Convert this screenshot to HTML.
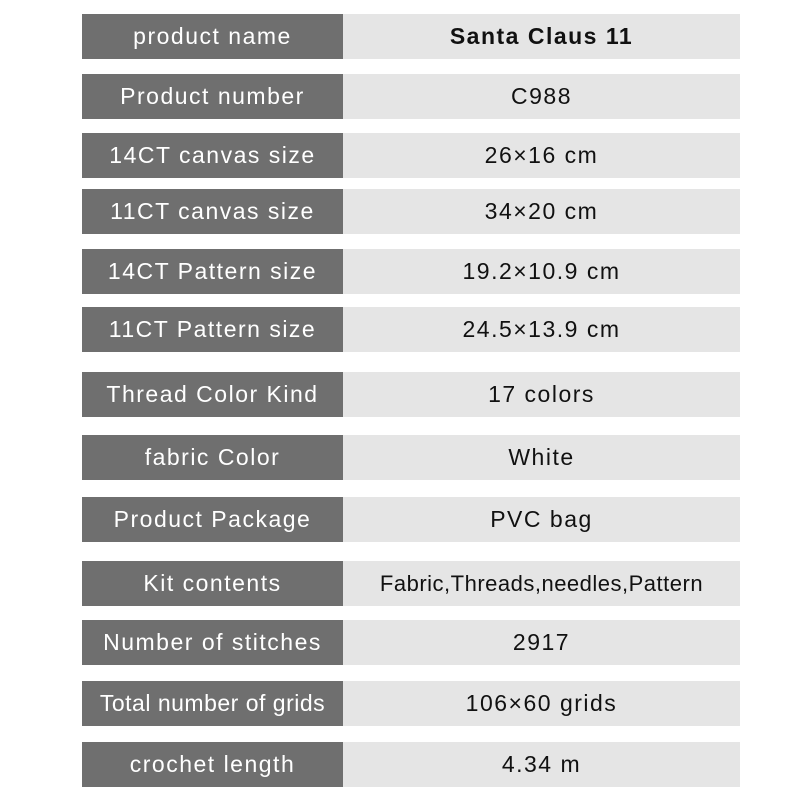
<!DOCTYPE html>
<html><head><style>
body{margin:0;width:800px;height:800px;background:#fff;position:relative;overflow:hidden;font-family:"Liberation Sans","WenQuanYi Zen Hei",sans-serif}
.l,.r{position:absolute;height:45px;line-height:45px;text-align:center;font-size:23px;letter-spacing:1.5px;white-space:nowrap}
.l{left:82px;width:261px;background:#6f6f6f;color:#fff}
.r{left:343px;width:397px;background:#e5e5e5;color:#111}
</style></head><body>
<div class="l" style="top:14px">product name</div><div class="r" style="top:14px;font-weight:bold">Santa Claus 11</div>
<div class="l" style="top:74px">Product number</div><div class="r" style="top:74px">C988</div>
<div class="l" style="top:133px">14CT canvas size</div><div class="r" style="top:133px">26×16 cm</div>
<div class="l" style="top:189px">11CT canvas size</div><div class="r" style="top:189px">34×20 cm</div>
<div class="l" style="top:249px">14CT Pattern size</div><div class="r" style="top:249px">19.2×10.9 cm</div>
<div class="l" style="top:307px">11CT Pattern size</div><div class="r" style="top:307px">24.5×13.9 cm</div>
<div class="l" style="top:372px">Thread Color Kind</div><div class="r" style="top:372px">17 colors</div>
<div class="l" style="top:435px">fabric Color</div><div class="r" style="top:435px">White</div>
<div class="l" style="top:497px">Product Package</div><div class="r" style="top:497px">PVC bag</div>
<div class="l" style="top:561px">Kit contents</div><div class="r" style="top:561px;letter-spacing:0.5px;font-size:22px">Fabric,Threads,needles,Pattern</div>
<div class="l" style="top:620px">Number of stitches</div><div class="r" style="top:620px">2917</div>
<div class="l" style="top:681px;letter-spacing:0.5px">Total number of grids</div><div class="r" style="top:681px">106×60 grids</div>
<div class="l" style="top:742px">crochet length</div><div class="r" style="top:742px">4.34 m</div>
</body></html>
